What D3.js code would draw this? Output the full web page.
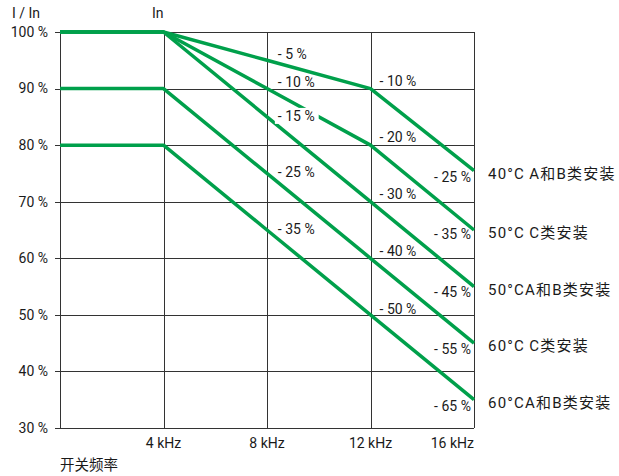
<!DOCTYPE html>
<html>
<head>
<meta charset="utf-8">
<script src="https://cdn.jsdelivr.net/npm/d3@7/dist/d3.min.js"></script>
<style>
  body { margin: 0; background: #fff; }
  text { font-family: Roboto, "Noto Sans CJK SC", sans-serif; fill: #1a1a1a; }
</style>
</head>
<body>
<div id="chart"></div>
<script>
// switching frequency (kHz) and derating curves (% of In)
var freqs = [0, 4, 8, 12, 16];
var curve40AB = [100, 100, 95, 90, 75.5];
var curve50C  = [100, 100, 90, 80, 65];
var curve50AB = [100, 100, 85, 70, 55];
var curve60C  = [90, 90, 75, 60, 45];
var curve60AB = [80, 80, 65, 50, 35];
var curveNames = ["40°C\u2009A和B类安装", "50°C\u2009C类安装", "50°CA和B类安装", "60°C\u2009C类安装", "60°CA和B类安装"];

var yTicks = [30, 40, 50, 60, 70, 80, 90, 100];
var xTicks = [4, 8, 12, 16];

// derating labels: text + where they sit (kHz, %)
var lbl8Text  = ["- 5 %", "- 10 %", "- 15 %", "- 25 %", "- 35 %"];
var lbl8Pos   = [96.1, 91.2, 85.15, 75.2, 65.2];
var lbl12Text = ["- 10 %", "- 20 %", "- 30 %", "- 40 %", "- 50 %"];
var lbl12Pos  = [91.4, 81.35, 71.4, 61.2, 51.0];
var lbl16Text = ["- 25 %", "- 35 %", "- 45 %", "- 55 %", "- 65 %"];
var lbl16Pos  = [74.3, 64.3, 54.1, 43.95, 33.9];

var width = 619, height = 476;
var svg = d3.select("#chart").append("svg")
    .attr("width", width)
    .attr("height", height);

var x = d3.scaleLinear().domain([0, 16]).range([60, 474]);
var y = d3.scaleLinear().domain([30, 100]).range([428, 32]);

var green = "#00a04b";
var grid = "#333";
var fs = "14px";

// horizontal grid
svg.append("g").selectAll("line").data(yTicks).enter().append("line")
    .attr("x1", x(0) - 5).attr("x2", x(16))
    .attr("y1", function(d){ return Math.round(y(d)) + 0.5; })
    .attr("y2", function(d){ return Math.round(y(d)) + 0.5; })
    .attr("stroke", grid).attr("stroke-width", 1);

// vertical grid (incl. left axis)
svg.append("g").selectAll("line").data([0].concat(xTicks)).enter().append("line")
    .attr("x1", function(d){ return Math.round(x(d)) + 0.5; })
    .attr("x2", function(d){ return Math.round(x(d)) + 0.5; })
    .attr("y1", y(100)).attr("y2", y(30))
    .attr("stroke", grid).attr("stroke-width", 1);

// y tick labels
svg.append("g").selectAll("text").data(yTicks).enter().append("text")
    .attr("x", 48).attr("y", function(d){ return y(d); })
    .attr("dy", "0.35em")
    .attr("text-anchor", "end")
    .style("font-size", fs)
    .text(function(d){ return d + " %"; });

// x tick labels
svg.append("g").selectAll("text").data(xTicks).enter().append("text")
    .attr("x", function(d){ return x(d); })
    .attr("y", 443).attr("dy", "0.35em")
    .attr("text-anchor", function(d){ return d === 16 ? "end" : "middle"; })
    .style("font-size", fs)
    .text(function(d){ return d + " kHz"; });

svg.append("text").attr("x", 12).attr("y", 13).attr("dy", "0.35em")
    .style("font-size", fs).text("I / In");
svg.append("text").attr("x", x(4)).attr("y", 13).attr("dy", "0.35em")
    .attr("text-anchor", "end")
    .style("font-size", fs).text("In");
svg.append("text").attr("x", x(0)).attr("y", 465).attr("dy", "0.35em")
    .style("font-size", "14.5px").text("开关频率");

// curves
var curves = [curve40AB, curve50C, curve50AB, curve60C, curve60AB];
var line = d3.line()
    .x(function(d, i){ return x(freqs[i]); })
    .y(function(d){ return y(d); });

svg.append("g").selectAll("path").data(curves).enter().append("path")
    .attr("d", line)
    .attr("fill", "none")
    .attr("stroke", green)
    .attr("stroke-width", 3.5)
    .attr("stroke-linejoin", "round");

// derating labels
function addLabels(texts, pos, f, anchor, knock) {
  var g = svg.append("g");
  texts.forEach(function(t, i) {
    var tx = g.append("text")
      .attr("x", x(f)).attr("y", y(pos[i])).attr("dy", "0.35em")
      .attr("text-anchor", anchor)
      .style("font-size", fs)
      .text(t);
    if (knock && knock[i]) {
      var bb = tx.node().getBBox();
      g.insert("rect", "text")
        .attr("x", bb.x - 3).attr("y", bb.y)
        .attr("width", bb.width + 7).attr("height", bb.height)
        .attr("fill", "#fff");
    }
  });
}
addLabels(lbl8Text, lbl8Pos, 8.42, "start", [0, 0, 1, 0, 0]);
addLabels(lbl12Text, lbl12Pos, 12.35, "start");
addLabels(lbl16Text, lbl16Pos, 15.88, "end");

// curve names at the right end
svg.append("g").selectAll("text").data(curves).enter().append("text")
    .attr("x", 488)
    .attr("y", function(d){ return y(d[d.length - 1]) + 3; })
    .attr("dy", "0.35em")
    .style("font-size", "15px")
    .style("letter-spacing", "1.2px")
    .text(function(d, i){ return curveNames[i]; });
</script>
</body>
</html>
